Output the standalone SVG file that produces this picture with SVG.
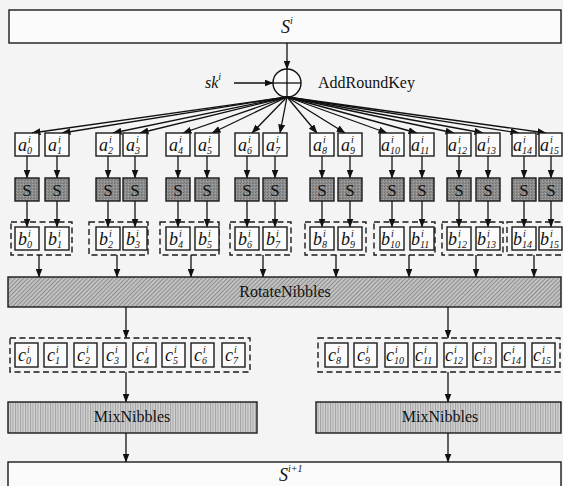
<svg xmlns="http://www.w3.org/2000/svg" width="563" height="486" viewBox="0 0 563 486">
<style>
.bx{fill:#fbfbfb;stroke:#1a1a1a;stroke-width:1.4}
.sb{fill:url(#dots);stroke:#1a1a1a;stroke-width:1.4}
.grp{fill:none;stroke:#1a1a1a;stroke-width:1.4;stroke-dasharray:6 3.5}
.v{font-family:"Liberation Serif","Times New Roman",serif;font-style:italic;font-size:18px;fill:#111}
.s{font-size:10px}
.t{font-family:"Liberation Serif","Times New Roman",serif;font-size:16px;fill:#111;text-anchor:middle}
.st{font-family:"Liberation Serif","Times New Roman",serif;font-size:17px;fill:#111;text-anchor:middle}
.c line{stroke:#111;stroke-width:1.3;fill:none;marker-end:url(#ah)}
</style>
<defs>
<marker id="ah" markerWidth="9" markerHeight="7" refX="8.5" refY="3.5" orient="auto" markerUnits="userSpaceOnUse"><path d="M0,0 L9,3.5 L0,7 z" fill="#111"/></marker>
<pattern id="dots" width="3" height="3" patternUnits="userSpaceOnUse"><rect width="3" height="3" fill="#8d8d8d"/><rect width="1" height="1" fill="#6e6e6e"/><rect x="2" y="1" width="1" height="1" fill="#a8a8a8"/><rect x="1" y="2" width="1" height="1" fill="#777"/></pattern>
<pattern id="hatchD" width="3" height="3" patternUnits="userSpaceOnUse" patternTransform="rotate(45)"><rect width="3" height="3" fill="#c2c2c2"/><rect width="1" height="3" fill="#8e8e8e"/></pattern>
<pattern id="hatchV" width="2.5" height="4" patternUnits="userSpaceOnUse"><rect width="2.5" height="4" fill="#d4d4d4"/><rect width="1" height="4" fill="#a0a0a0"/></pattern>
</defs>
<rect width="563" height="486" fill="#f4f4f4"/>

<g id="node-Si"><rect class="bx" x="9" y="10" width="552" height="33"/><text class="v" x="281" y="33">S<tspan class="s" dy="-9">i</tspan></text></g>

<g id="node-add">
<circle cx="287" cy="83" r="14" fill="#fbfbfb" stroke="#111" stroke-width="1.4"/>
<line x1="273" y1="83" x2="301" y2="83" stroke="#111" stroke-width="1.3"/>
<line x1="287" y1="69" x2="287" y2="97" stroke="#111" stroke-width="1.3"/>
<text class="v" x="205" y="88" style="font-size:16px">sk<tspan class="s" dy="-8">i</tspan></text>
<text class="t" x="318" y="88" style="text-anchor:start">AddRoundKey</text>
</g>

<g id="connectors" class="c">
<line x1="287" y1="43" x2="287" y2="69"/>
<line x1="234" y1="83" x2="273" y2="83"/>
<line x1="287" y1="97" x2="32" y2="133"/>
<line x1="287" y1="97" x2="62" y2="133"/>
<line x1="287" y1="97" x2="113" y2="133"/>
<line x1="287" y1="97" x2="140" y2="133"/>
<line x1="287" y1="97" x2="183" y2="133"/>
<line x1="287" y1="97" x2="212" y2="133"/>
<line x1="287" y1="97" x2="252" y2="133"/>
<line x1="287" y1="97" x2="280" y2="133"/>
<line x1="287" y1="97" x2="317" y2="133"/>
<line x1="287" y1="97" x2="345" y2="133"/>
<line x1="287" y1="97" x2="387" y2="133"/>
<line x1="287" y1="97" x2="417" y2="133"/>
<line x1="287" y1="97" x2="454" y2="133"/>
<line x1="287" y1="97" x2="483" y2="133"/>
<line x1="287" y1="97" x2="519" y2="133"/>
<line x1="287" y1="97" x2="546" y2="133"/>
<line x1="27" y1="156" x2="27" y2="178"/><line x1="57" y1="156" x2="57" y2="178"/><line x1="108" y1="156" x2="108" y2="178"/><line x1="135" y1="156" x2="135" y2="178"/><line x1="178" y1="156" x2="178" y2="178"/><line x1="207" y1="156" x2="207" y2="178"/><line x1="247" y1="156" x2="247" y2="178"/><line x1="275" y1="156" x2="275" y2="178"/><line x1="322" y1="156" x2="322" y2="178"/><line x1="350" y1="156" x2="350" y2="178"/><line x1="392" y1="156" x2="392" y2="178"/><line x1="422" y1="156" x2="422" y2="178"/><line x1="459" y1="156" x2="459" y2="178"/><line x1="488" y1="156" x2="488" y2="178"/><line x1="524" y1="156" x2="524" y2="178"/><line x1="551" y1="156" x2="551" y2="178"/>
<line x1="27" y1="201" x2="27" y2="227"/><line x1="57" y1="201" x2="57" y2="227"/><line x1="108" y1="201" x2="108" y2="227"/><line x1="135" y1="201" x2="135" y2="227"/><line x1="178" y1="201" x2="178" y2="227"/><line x1="207" y1="201" x2="207" y2="227"/><line x1="247" y1="201" x2="247" y2="227"/><line x1="275" y1="201" x2="275" y2="227"/><line x1="322" y1="201" x2="322" y2="227"/><line x1="350" y1="201" x2="350" y2="227"/><line x1="392" y1="201" x2="392" y2="227"/><line x1="422" y1="201" x2="422" y2="227"/><line x1="459" y1="201" x2="459" y2="227"/><line x1="488" y1="201" x2="488" y2="227"/><line x1="524" y1="201" x2="524" y2="227"/><line x1="551" y1="201" x2="551" y2="227"/>
<line x1="39" y1="255" x2="39" y2="277"/><line x1="117" y1="255" x2="117" y2="277"/><line x1="191" y1="255" x2="191" y2="277"/><line x1="263" y1="255" x2="263" y2="277"/><line x1="336" y1="255" x2="336" y2="277"/><line x1="409" y1="255" x2="409" y2="277"/><line x1="476" y1="255" x2="476" y2="277"/><line x1="534" y1="255" x2="534" y2="277"/>
<line x1="126" y1="307" x2="126" y2="338"/><line x1="448" y1="307" x2="448" y2="338"/>
<line x1="126" y1="372" x2="126" y2="402"/><line x1="448" y1="372" x2="448" y2="402"/>
<line x1="126" y1="433" x2="126" y2="462"/><line x1="448" y1="433" x2="448" y2="462"/>
</g>

<g id="node-a0"><rect class="bx" x="15" y="133" width="24" height="23"/><text class="v" x="18" y="151">a<tspan class="s" x="27" y="154">0</tspan><tspan class="s" x="28" y="143">i</tspan></text></g>
<g id="node-a1"><rect class="bx" x="45" y="133" width="24" height="23"/><text class="v" x="48" y="151">a<tspan class="s" x="57" y="154">1</tspan><tspan class="s" x="58" y="143">i</tspan></text></g>
<g id="node-a2"><rect class="bx" x="96" y="133" width="24" height="23"/><text class="v" x="99" y="151">a<tspan class="s" x="108" y="154">2</tspan><tspan class="s" x="109" y="143">i</tspan></text></g>
<g id="node-a3"><rect class="bx" x="123" y="133" width="24" height="23"/><text class="v" x="126" y="151">a<tspan class="s" x="135" y="154">3</tspan><tspan class="s" x="136" y="143">i</tspan></text></g>
<g id="node-a4"><rect class="bx" x="166" y="133" width="24" height="23"/><text class="v" x="169" y="151">a<tspan class="s" x="178" y="154">4</tspan><tspan class="s" x="179" y="143">i</tspan></text></g>
<g id="node-a5"><rect class="bx" x="195" y="133" width="24" height="23"/><text class="v" x="198" y="151">a<tspan class="s" x="207" y="154">5</tspan><tspan class="s" x="208" y="143">i</tspan></text></g>
<g id="node-a6"><rect class="bx" x="235" y="133" width="24" height="23"/><text class="v" x="238" y="151">a<tspan class="s" x="247" y="154">6</tspan><tspan class="s" x="248" y="143">i</tspan></text></g>
<g id="node-a7"><rect class="bx" x="263" y="133" width="24" height="23"/><text class="v" x="266" y="151">a<tspan class="s" x="275" y="154">7</tspan><tspan class="s" x="276" y="143">i</tspan></text></g>
<g id="node-a8"><rect class="bx" x="310" y="133" width="24" height="23"/><text class="v" x="313" y="151">a<tspan class="s" x="322" y="154">8</tspan><tspan class="s" x="323" y="143">i</tspan></text></g>
<g id="node-a9"><rect class="bx" x="338" y="133" width="24" height="23"/><text class="v" x="341" y="151">a<tspan class="s" x="350" y="154">9</tspan><tspan class="s" x="351" y="143">i</tspan></text></g>
<g id="node-a10"><rect class="bx" x="380" y="133" width="24" height="23"/><text class="v" x="381" y="151">a<tspan class="s" x="390" y="154">10</tspan><tspan class="s" x="391" y="143">i</tspan></text></g>
<g id="node-a11"><rect class="bx" x="410" y="133" width="24" height="23"/><text class="v" x="411" y="151">a<tspan class="s" x="420" y="154">11</tspan><tspan class="s" x="421" y="143">i</tspan></text></g>
<g id="node-a12"><rect class="bx" x="447" y="133" width="24" height="23"/><text class="v" x="448" y="151">a<tspan class="s" x="457" y="154">12</tspan><tspan class="s" x="458" y="143">i</tspan></text></g>
<g id="node-a13"><rect class="bx" x="476" y="133" width="24" height="23"/><text class="v" x="477" y="151">a<tspan class="s" x="486" y="154">13</tspan><tspan class="s" x="487" y="143">i</tspan></text></g>
<g id="node-a14"><rect class="bx" x="512" y="133" width="24" height="23"/><text class="v" x="513" y="151">a<tspan class="s" x="522" y="154">14</tspan><tspan class="s" x="523" y="143">i</tspan></text></g>
<g id="node-a15"><rect class="bx" x="539" y="133" width="23" height="23"/><text class="v" x="540" y="151">a<tspan class="s" x="549" y="154">15</tspan><tspan class="s" x="550" y="143">i</tspan></text></g>

<g id="node-s0"><rect class="sb" x="15" y="178" width="24" height="23"/><text class="st" x="27" y="196">S</text></g>
<g id="node-s1"><rect class="sb" x="45" y="178" width="24" height="23"/><text class="st" x="57" y="196">S</text></g>
<g id="node-s2"><rect class="sb" x="96" y="178" width="24" height="23"/><text class="st" x="108" y="196">S</text></g>
<g id="node-s3"><rect class="sb" x="123" y="178" width="24" height="23"/><text class="st" x="135" y="196">S</text></g>
<g id="node-s4"><rect class="sb" x="166" y="178" width="24" height="23"/><text class="st" x="178" y="196">S</text></g>
<g id="node-s5"><rect class="sb" x="195" y="178" width="24" height="23"/><text class="st" x="207" y="196">S</text></g>
<g id="node-s6"><rect class="sb" x="235" y="178" width="24" height="23"/><text class="st" x="247" y="196">S</text></g>
<g id="node-s7"><rect class="sb" x="263" y="178" width="24" height="23"/><text class="st" x="275" y="196">S</text></g>
<g id="node-s8"><rect class="sb" x="310" y="178" width="24" height="23"/><text class="st" x="322" y="196">S</text></g>
<g id="node-s9"><rect class="sb" x="338" y="178" width="24" height="23"/><text class="st" x="350" y="196">S</text></g>
<g id="node-s10"><rect class="sb" x="380" y="178" width="24" height="23"/><text class="st" x="392" y="196">S</text></g>
<g id="node-s11"><rect class="sb" x="410" y="178" width="24" height="23"/><text class="st" x="422" y="196">S</text></g>
<g id="node-s12"><rect class="sb" x="447" y="178" width="24" height="23"/><text class="st" x="459" y="196">S</text></g>
<g id="node-s13"><rect class="sb" x="476" y="178" width="24" height="23"/><text class="st" x="488" y="196">S</text></g>
<g id="node-s14"><rect class="sb" x="512" y="178" width="24" height="23"/><text class="st" x="524" y="196">S</text></g>
<g id="node-s15"><rect class="sb" x="539" y="178" width="23" height="23"/><text class="st" x="551" y="196">S</text></g>

<g id="group-b">
<rect class="grp" x="11" y="222" width="61" height="33"/>
<rect class="grp" x="89" y="222" width="59" height="33"/>
<rect class="grp" x="160" y="222" width="59" height="33"/>
<rect class="grp" x="230" y="222" width="61" height="33"/>
<rect class="grp" x="305" y="222" width="61" height="33"/>
<rect class="grp" x="374" y="222" width="61" height="33"/>
<rect class="grp" x="442" y="222" width="61" height="33"/>
<rect class="grp" x="507" y="222" width="58" height="33"/>
</g>
<g id="node-b0"><rect class="bx" x="15" y="227" width="24" height="23"/><text class="v" x="18" y="245">b<tspan class="s" x="27" y="248">0</tspan><tspan class="s" x="28" y="237">i</tspan></text></g>
<g id="node-b1"><rect class="bx" x="45" y="227" width="24" height="23"/><text class="v" x="48" y="245">b<tspan class="s" x="57" y="248">1</tspan><tspan class="s" x="58" y="237">i</tspan></text></g>
<g id="node-b2"><rect class="bx" x="96" y="227" width="24" height="23"/><text class="v" x="99" y="245">b<tspan class="s" x="108" y="248">2</tspan><tspan class="s" x="109" y="237">i</tspan></text></g>
<g id="node-b3"><rect class="bx" x="123" y="227" width="24" height="23"/><text class="v" x="126" y="245">b<tspan class="s" x="135" y="248">3</tspan><tspan class="s" x="136" y="237">i</tspan></text></g>
<g id="node-b4"><rect class="bx" x="166" y="227" width="24" height="23"/><text class="v" x="169" y="245">b<tspan class="s" x="178" y="248">4</tspan><tspan class="s" x="179" y="237">i</tspan></text></g>
<g id="node-b5"><rect class="bx" x="195" y="227" width="24" height="23"/><text class="v" x="198" y="245">b<tspan class="s" x="207" y="248">5</tspan><tspan class="s" x="208" y="237">i</tspan></text></g>
<g id="node-b6"><rect class="bx" x="235" y="227" width="24" height="23"/><text class="v" x="238" y="245">b<tspan class="s" x="247" y="248">6</tspan><tspan class="s" x="248" y="237">i</tspan></text></g>
<g id="node-b7"><rect class="bx" x="263" y="227" width="24" height="23"/><text class="v" x="266" y="245">b<tspan class="s" x="275" y="248">7</tspan><tspan class="s" x="276" y="237">i</tspan></text></g>
<g id="node-b8"><rect class="bx" x="310" y="227" width="24" height="23"/><text class="v" x="313" y="245">b<tspan class="s" x="322" y="248">8</tspan><tspan class="s" x="323" y="237">i</tspan></text></g>
<g id="node-b9"><rect class="bx" x="338" y="227" width="24" height="23"/><text class="v" x="341" y="245">b<tspan class="s" x="350" y="248">9</tspan><tspan class="s" x="351" y="237">i</tspan></text></g>
<g id="node-b10"><rect class="bx" x="380" y="227" width="24" height="23"/><text class="v" x="381" y="245">b<tspan class="s" x="390" y="248">10</tspan><tspan class="s" x="391" y="237">i</tspan></text></g>
<g id="node-b11"><rect class="bx" x="410" y="227" width="24" height="23"/><text class="v" x="411" y="245">b<tspan class="s" x="420" y="248">11</tspan><tspan class="s" x="421" y="237">i</tspan></text></g>
<g id="node-b12"><rect class="bx" x="447" y="227" width="24" height="23"/><text class="v" x="448" y="245">b<tspan class="s" x="457" y="248">12</tspan><tspan class="s" x="458" y="237">i</tspan></text></g>
<g id="node-b13"><rect class="bx" x="476" y="227" width="24" height="23"/><text class="v" x="477" y="245">b<tspan class="s" x="486" y="248">13</tspan><tspan class="s" x="487" y="237">i</tspan></text></g>
<g id="node-b14"><rect class="bx" x="512" y="227" width="24" height="23"/><text class="v" x="513" y="245">b<tspan class="s" x="522" y="248">14</tspan><tspan class="s" x="523" y="237">i</tspan></text></g>
<g id="node-b15"><rect class="bx" x="539" y="227" width="23" height="23"/><text class="v" x="540" y="245">b<tspan class="s" x="549" y="248">15</tspan><tspan class="s" x="550" y="237">i</tspan></text></g>

<g id="node-rotate"><rect x="8" y="277" width="553" height="30" fill="url(#hatchD)" stroke="#1a1a1a" stroke-width="1.4"/><text class="t" x="285" y="297">RotateNibbles</text></g>

<g id="group-c">
<rect class="grp" x="10" y="338" width="240" height="34"/>
<rect class="grp" x="318" y="338" width="242" height="34"/>
</g>
<g id="node-c0"><rect class="bx" x="15" y="343" width="23" height="24"/><text class="v" x="18" y="361">c<tspan class="s" x="26" y="364">0</tspan><tspan class="s" x="27" y="353">i</tspan></text></g>
<g id="node-c1"><rect class="bx" x="44" y="343" width="23" height="24"/><text class="v" x="47" y="361">c<tspan class="s" x="55" y="364">1</tspan><tspan class="s" x="56" y="353">i</tspan></text></g>
<g id="node-c2"><rect class="bx" x="74" y="343" width="23" height="24"/><text class="v" x="77" y="361">c<tspan class="s" x="85" y="364">2</tspan><tspan class="s" x="86" y="353">i</tspan></text></g>
<g id="node-c3"><rect class="bx" x="103" y="343" width="23" height="24"/><text class="v" x="106" y="361">c<tspan class="s" x="114" y="364">3</tspan><tspan class="s" x="115" y="353">i</tspan></text></g>
<g id="node-c4"><rect class="bx" x="133" y="343" width="23" height="24"/><text class="v" x="136" y="361">c<tspan class="s" x="144" y="364">4</tspan><tspan class="s" x="145" y="353">i</tspan></text></g>
<g id="node-c5"><rect class="bx" x="162" y="343" width="23" height="24"/><text class="v" x="165" y="361">c<tspan class="s" x="173" y="364">5</tspan><tspan class="s" x="174" y="353">i</tspan></text></g>
<g id="node-c6"><rect class="bx" x="191" y="343" width="23" height="24"/><text class="v" x="194" y="361">c<tspan class="s" x="202" y="364">6</tspan><tspan class="s" x="203" y="353">i</tspan></text></g>
<g id="node-c7"><rect class="bx" x="222" y="343" width="23" height="24"/><text class="v" x="225" y="361">c<tspan class="s" x="233" y="364">7</tspan><tspan class="s" x="234" y="353">i</tspan></text></g>
<g id="node-c8"><rect class="bx" x="325" y="343" width="23" height="24"/><text class="v" x="328" y="361">c<tspan class="s" x="336" y="364">8</tspan><tspan class="s" x="337" y="353">i</tspan></text></g>
<g id="node-c9"><rect class="bx" x="354" y="343" width="23" height="24"/><text class="v" x="357" y="361">c<tspan class="s" x="365" y="364">9</tspan><tspan class="s" x="366" y="353">i</tspan></text></g>
<g id="node-c10"><rect class="bx" x="385" y="343" width="23" height="24"/><text class="v" x="386" y="361">c<tspan class="s" x="394" y="364">10</tspan><tspan class="s" x="395" y="353">i</tspan></text></g>
<g id="node-c11"><rect class="bx" x="414" y="343" width="23" height="24"/><text class="v" x="415" y="361">c<tspan class="s" x="423" y="364">11</tspan><tspan class="s" x="424" y="353">i</tspan></text></g>
<g id="node-c12"><rect class="bx" x="444" y="343" width="23" height="24"/><text class="v" x="445" y="361">c<tspan class="s" x="453" y="364">12</tspan><tspan class="s" x="454" y="353">i</tspan></text></g>
<g id="node-c13"><rect class="bx" x="473" y="343" width="23" height="24"/><text class="v" x="474" y="361">c<tspan class="s" x="482" y="364">13</tspan><tspan class="s" x="483" y="353">i</tspan></text></g>
<g id="node-c14"><rect class="bx" x="502" y="343" width="23" height="24"/><text class="v" x="503" y="361">c<tspan class="s" x="511" y="364">14</tspan><tspan class="s" x="512" y="353">i</tspan></text></g>
<g id="node-c15"><rect class="bx" x="532" y="343" width="23" height="24"/><text class="v" x="533" y="361">c<tspan class="s" x="541" y="364">15</tspan><tspan class="s" x="542" y="353">i</tspan></text></g>

<g id="node-mix1"><rect x="8" y="402" width="249" height="31" fill="url(#hatchV)" stroke="#1a1a1a" stroke-width="1.4"/><text class="t" x="132" y="422">MixNibbles</text></g>
<g id="node-mix2"><rect x="316" y="402" width="245" height="31" fill="url(#hatchV)" stroke="#1a1a1a" stroke-width="1.4"/><text class="t" x="440" y="422">MixNibbles</text></g>

<g id="node-Si1"><rect class="bx" x="8" y="462" width="553" height="34"/><text class="v" x="279" y="481">S<tspan class="s" dy="-9">i+1</tspan></text></g>
</svg>
